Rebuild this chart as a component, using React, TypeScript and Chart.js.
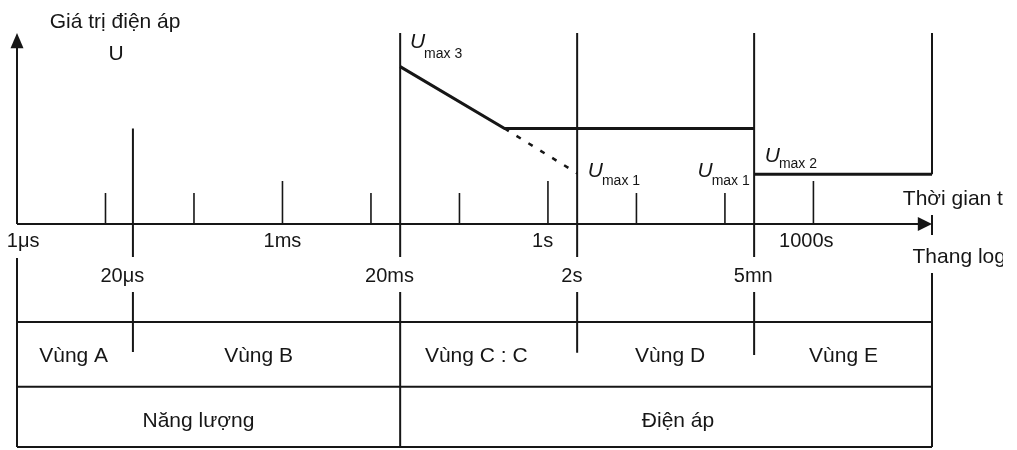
import React, { useEffect, useRef } from 'react';
import { Chart, registerables } from 'chart.js';

Chart.register(...registerables);

// x values: decades of time above 1 µs (log time axis); y values: relative voltage
const minorTickX = [1, 2, 4, 5, 7, 8];
const majorTickX = [3, 6, 9];
const minorTickHeight = 1.62;
const majorTickHeight = 2.25;

const decadeLabels = ['1μs', '1ms', '1s', '1000s'];
const decadeLabelX = [0.07, 3.0, 5.94, 8.92];

const boundaryLabels = ['20μs', '20ms', '2s', '5mn'];
const boundaryX = [1.31, 4.33, 6.33, 8.33];
const boundaryLabelX = [1.19, 4.21, 6.27, 8.32];
const boundaryTopY = [5.0, 10, 10, 10];
const boundaryBottomY = [-6.7, -11.68, -6.75, -6.86];
const gapTopY = -1.73;
const gapBottomY = -3.56;

const timeEndX = 10.34;
const topY = 10;
const bottomY = -11.68;

const umax3X = [4.33, 5.51, 8.33];
const umax3Y = [8.24, 5.0, 5.0];
const umax1DashX = [5.51, 6.33];
const umax1DashY = [5.0, 2.65];
const umax2X = [8.33, 10.34];
const umax2Y = [2.6, 2.6];

const tableRowY = [-5.13, -8.53, -11.68];

const zoneNames = ['Vùng A', 'Vùng B', 'Vùng C : C', 'Vùng D', 'Vùng E'];
const zoneLabelX = [0.64, 2.73, 5.19, 7.38, 9.34];
const categoryNames = ['Năng lượng', 'Điện áp'];
const categoryLabelX = [2.05, 7.47];

const INK = '#161616';
const FONT = '"Liberation Sans", Arial, sans-serif';

type P = { x: number; y: number };
const seg = (pts: P[], width: number, dash: number[] = []) => ({
  data: pts,
  showLine: true,
  borderColor: INK,
  borderWidth: width,
  borderDash: dash,
  pointRadius: 0,
  fill: false,
  clip: false as any,
  tension: 0,
});

export default function App() {
  const ref = useRef<HTMLCanvasElement>(null);

  useEffect(() => {
    if (!ref.current) return;
    const datasets: any[] = [];
    // axes
    datasets.push(seg([{ x: 0, y: 0 }, { x: 10.2, y: 0 }], 2));
    datasets.push(seg([{ x: 0, y: 0 }, { x: 0, y: 9.3 }], 2));
    minorTickX.forEach((x) => datasets.push(seg([{ x, y: 0 }, { x, y: minorTickHeight }], 1.6)));
    majorTickX.forEach((x) => datasets.push(seg([{ x, y: 0 }, { x, y: majorTickHeight }], 1.6)));
    boundaryX.forEach((x, i) => {
      datasets.push(seg([{ x, y: boundaryTopY[i] }, { x, y: gapTopY }], 2));
      datasets.push(seg([{ x, y: gapBottomY }, { x, y: boundaryBottomY[i] }], 2));
    });
    // right end
    datasets.push(seg([{ x: timeEndX, y: topY }, { x: timeEndX, y: umax2Y[1] }], 2));
    datasets.push(seg([{ x: timeEndX, y: 0.47 }, { x: timeEndX, y: -0.58 }], 2));
    datasets.push(seg([{ x: timeEndX, y: -2.57 }, { x: timeEndX, y: bottomY }], 2));
    // table
    datasets.push(seg([{ x: 0, y: -1.78 }, { x: 0, y: bottomY }], 2));
    tableRowY.forEach((y) => datasets.push(seg([{ x: 0, y }, { x: timeEndX, y }], 2)));
    // limit curves
    datasets.push(seg(umax3X.map((x, i) => ({ x, y: umax3Y[i] })), 3));
    datasets.push(seg(umax1DashX.map((x, i) => ({ x, y: umax1DashY[i] })), 2.5, [5, 9]));
    datasets.push(seg(umax2X.map((x, i) => ({ x, y: umax2Y[i] })), 3));

    const decor = {
      id: 'decor',
      afterDatasetsDraw(chart: any) {
        const ctx = chart.ctx as CanvasRenderingContext2D;
        const xs = chart.scales.x;
        const ys = chart.scales.y;
        const px = (v: number) => xs.getPixelForValue(v);
        const py = (v: number) => ys.getPixelForValue(v);
        ctx.save();
        ctx.fillStyle = INK;
        // y arrow
        ctx.beginPath();
        ctx.moveTo(px(0), py(topY));
        ctx.lineTo(px(0) - 6.5, py(9.2));
        ctx.lineTo(px(0) + 6.5, py(9.2));
        ctx.closePath();
        ctx.fill();
        // x arrow
        ctx.beginPath();
        ctx.moveTo(px(timeEndX), py(0));
        ctx.lineTo(px(10.18), py(0) - 7);
        ctx.lineTo(px(10.18), py(0) + 7);
        ctx.closePath();
        ctx.fill();

        const text = (t: string, x: number, y: number, font: string, align: CanvasTextAlign = 'center') => {
          ctx.font = font;
          ctx.textAlign = align;
          ctx.textBaseline = 'alphabetic';
          ctx.fillText(t, x, y);
        };
        const f20 = `20px ${FONT}`;
        const f21 = `21px ${FONT}`;
        decadeLabels.forEach((t, i) => text(t, px(decadeLabelX[i]), py(-1.2), f20));
        boundaryLabels.forEach((t, i) => text(t, px(boundaryLabelX[i]), py(-3.04), f20));
        zoneNames.forEach((t, i) => text(t, px(zoneLabelX[i]), py(-7.23), f21));
        categoryNames.forEach((t, i) => text(t, px(categoryLabelX[i]), py(-10.63), f21));
        text('Giá trị điện áp', px(0.37), py(10.26), f21, 'left');
        text('U', px(1.12), py(8.59), f21);

        // axis titles, cut off at the scan's right edge as in the reference
        ctx.save();
        ctx.beginPath();
        ctx.rect(0, 0, px(timeEndX) + 71, chart.height);
        ctx.clip();
        text('Thời gian t', px(10.01), py(0.99), `21px ${FONT}`, 'left');
        text('Thang log', px(10.12), py(-2.04), `21px ${FONT}`, 'left');
        ctx.restore();

        const umaxLabel = (x: number, y: number, sub: string, drop: number) => {
          ctx.font = `italic 21px ${FONT}`;
          ctx.textAlign = 'left';
          const w = ctx.measureText('U').width;
          ctx.fillText('U', x, y);
          ctx.font = `14px ${FONT}`;
          ctx.fillText(sub, x + w - 1, y + drop);
        };
        umaxLabel(px(4.44), py(9.21), 'max 3', 10);
        umaxLabel(px(6.45), py(2.46), 'max 1', 8);
        umaxLabel(px(7.69), py(2.46), 'max 1', 8);
        umaxLabel(px(8.45), py(3.25), 'max 2', 6);
        ctx.restore();
      },
    };

    const chart = new Chart(ref.current, {
      type: 'scatter',
      data: { datasets },
      options: {
        animation: false,
        responsive: false,
        events: [],
        layout: { padding: { left: 17, right: 85, top: 33, bottom: 3 } },
        plugins: { legend: { display: false }, tooltip: { enabled: false } },
        scales: {
          x: { type: 'linear', min: 0, max: timeEndX, display: false },
          y: { type: 'linear', min: bottomY, max: topY, display: false },
        },
      },
      plugins: [decor],
    });
    return () => chart.destroy();
  }, []);

  return (
    <div style={{ position: 'absolute', left: 0, top: 0, width: 1017, height: 450, background: '#fff' }}>
      <canvas ref={ref} width={1017} height={450} style={{ display: 'block' }} />
    </div>
  );
}
